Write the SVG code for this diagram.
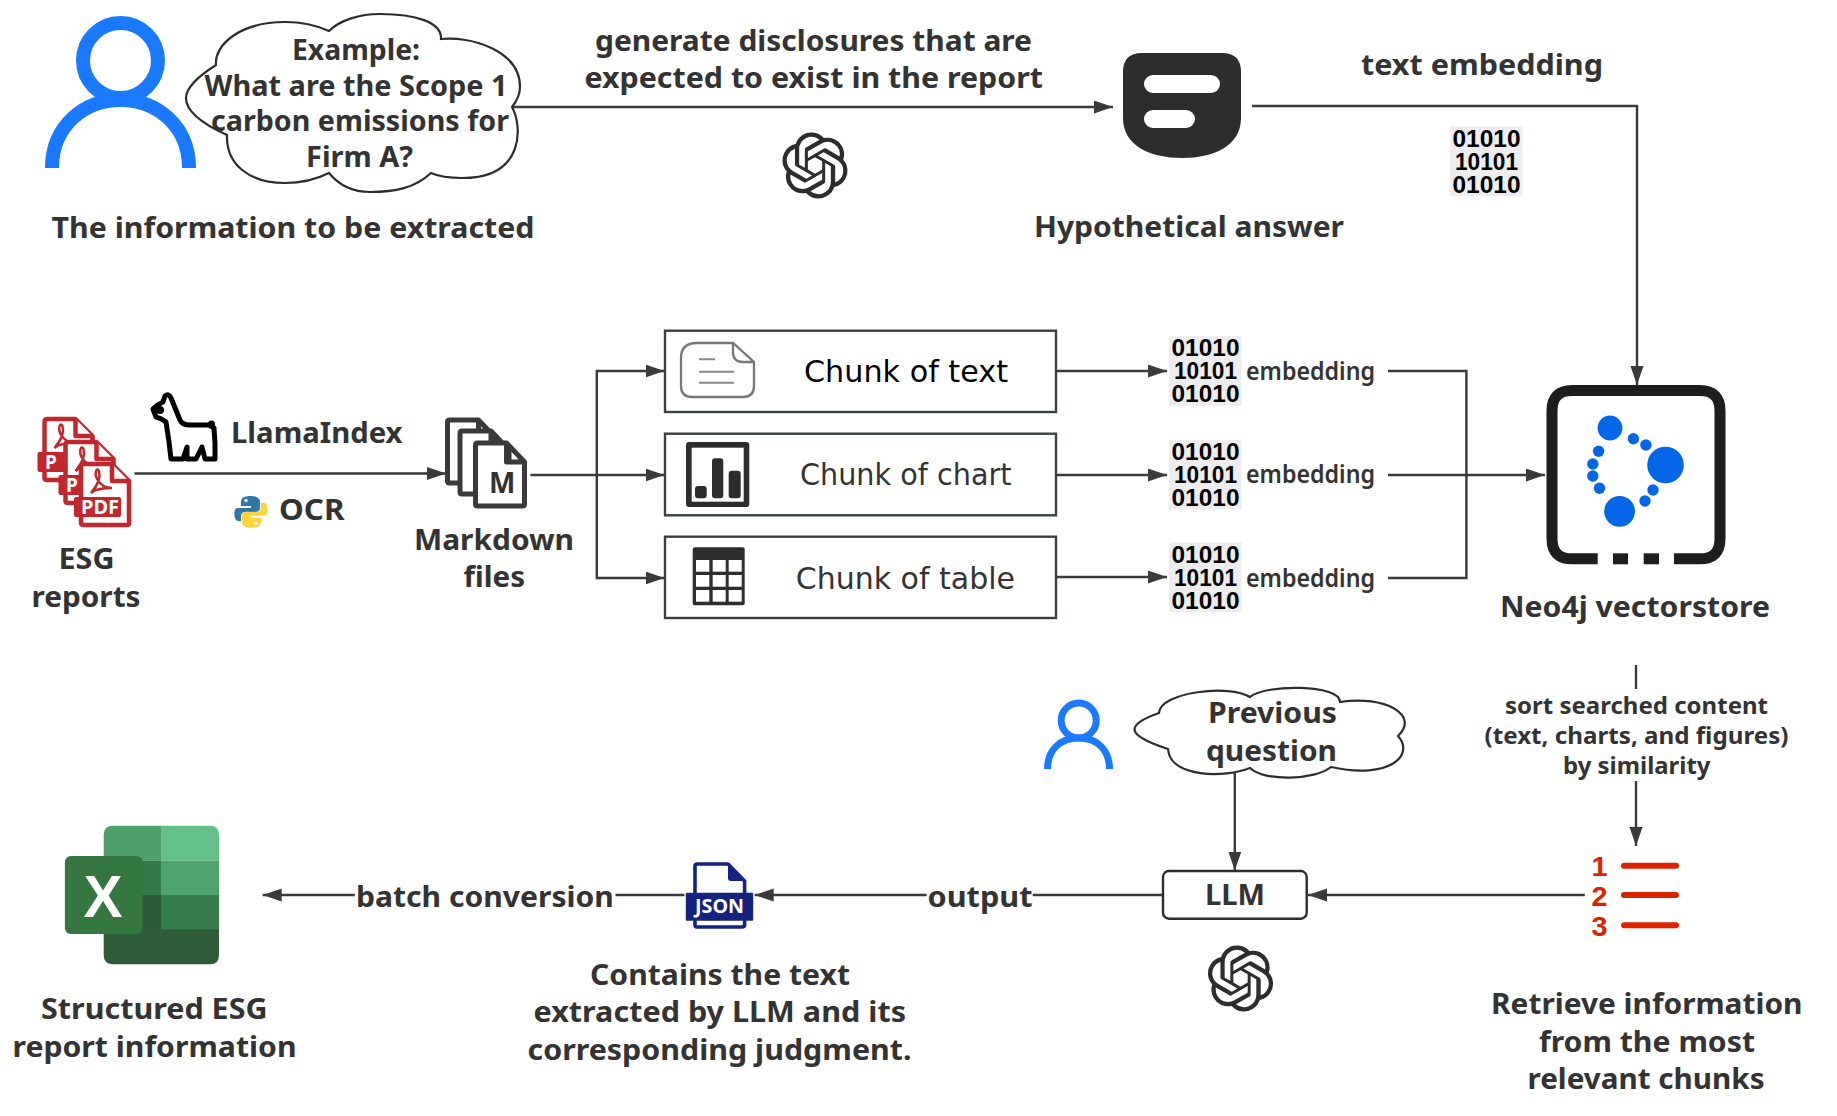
<svg xmlns="http://www.w3.org/2000/svg" xmlns:xlink="http://www.w3.org/1999/xlink" width="1837" height="1116" viewBox="0 0 1837 1116">
<style>
text{font-family:"Noto Sans","Open Sans","Liberation Sans",sans-serif;font-weight:700;fill:#333;font-size:29px}
.cl{font-size:28px}
.em{font-size:26px;font-weight:600}
.sm{font-size:24px}
.chunk{font-family:"DejaVu Sans",sans-serif;font-weight:400;font-size:30px}
.bin{font-family:"Liberation Sans",sans-serif;font-weight:700;font-size:24px;fill:#000}
.conn{fill:none;stroke:#3a3a3a;stroke-width:2.4}
.box{fill:#fff;stroke:#3a3f45;stroke-width:2.4}
.cloud{fill:#fff;stroke:#2d2d2d;stroke-width:2.2}
.person{fill:none;stroke:#1a7aff}
.dot{fill:#0366e8}
.pdf{fill:#fff;stroke:#c1272d;stroke-width:4.5;stroke-linejoin:round}
.md{fill:#fff;stroke:#3a3a3a;stroke-width:5;stroke-linejoin:round}
.num{fill:#dd2200;font-family:"Liberation Sans",sans-serif;font-weight:700;font-size:28px}
.wh{fill:#fff;font-weight:700;font-size:19px}
.dark{fill:#2d2d2d}
</style>
<defs>
<marker id="arrow" markerUnits="userSpaceOnUse" markerWidth="20" markerHeight="14" refX="19" refY="6.5" orient="auto"><path d="M0 0L19 6.5L0 13Z" fill="#3a3a3a"/></marker>
<path id="openai" d="M22.2819 9.8211a5.9847 5.9847 0 0 0-.5157-4.9108 6.0462 6.0462 0 0 0-6.5098-2.9A6.0651 6.0651 0 0 0 4.9807 4.1818a5.9847 5.9847 0 0 0-3.9977 2.9 6.0462 6.0462 0 0 0 .7427 7.0966 5.98 5.98 0 0 0 .511 4.9107 6.051 6.051 0 0 0 6.5146 2.9001A5.9847 5.9847 0 0 0 13.2599 24a6.0557 6.0557 0 0 0 5.7718-4.2058 5.9894 5.9894 0 0 0 3.9977-2.9001 6.0557 6.0557 0 0 0-.7475-7.0729zm-9.022 12.6081a4.4755 4.4755 0 0 1-2.8764-1.0408l.1419-.0804 4.7783-2.7582a.7948.7948 0 0 0 .3927-.6813v-6.7369l2.02 1.1686a.071.071 0 0 1 .038.052v5.5826a4.504 4.504 0 0 1-4.4945 4.4944zm-9.6607-4.1254a4.4708 4.4708 0 0 1-.5346-3.0137l.142.0852 4.783 2.7582a.7712.7712 0 0 0 .7806 0l5.8428-3.3685v2.3324a.0804.0804 0 0 1-.0332.0615L9.74 19.9502a4.4992 4.4992 0 0 1-6.1408-1.6464zM2.3408 7.8956a4.485 4.485 0 0 1 2.3655-1.9728V11.6a.7664.7664 0 0 0 .3879.6765l5.8144 3.3543-2.0201 1.1685a.0757.0757 0 0 1-.071 0l-4.8303-2.7865A4.504 4.504 0 0 1 2.3408 7.872zm16.5963 3.8558L13.1038 8.364 15.1192 7.2a.0757.0757 0 0 1 .071 0l4.8303 2.7913a4.4944 4.4944 0 0 1-.6765 8.1042v-5.6772a.79.79 0 0 0-.407-.667zm2.0107-3.0231l-.142-.0852-4.7735-2.7818a.7759.7759 0 0 0-.7854 0L9.409 9.2297V6.8974a.0662.0662 0 0 1 .0284-.0615l4.8303-2.7866a4.4992 4.4992 0 0 1 6.6802 4.66zM8.3065 12.863l-2.02-1.1638a.0804.0804 0 0 1-.038-.0567V6.0742a4.4992 4.4992 0 0 1 7.3757-3.4537l-.142.0805L8.704 5.459a.7948.7948 0 0 0-.3927.6813zm1.0976-2.3654l2.602-1.4998 2.6069 1.4998v2.9994l-2.5974 1.4997-2.6067-1.4997Z"/>
<g id="pdfdoc"><path class="pdf" d="M5 2H33L50 19V61Q50 63 48 63H5Q2 63 2 61V5Q2 2 5 2Z"/><path class="pdf" d="M33 2V19H50"/><rect x="-5" y="35" width="47" height="20" rx="2" fill="#c1272d"/><path d="M12 31C18 24 22 16 20 9C18 5 15 10 18 17C22 24 28 26 33 26C27 26 17 26 12 31Z" fill="none" stroke="#c1272d" stroke-width="2.5"/></g>
<path id="mddoc" class="md" d="M5 3H34L52 22V64Q52 66 50 66H5Q3 66 3 64V5Q3 3 5 3ZM34 3V22H52"/>
<g id="binbg"><rect width="72.5" height="69.5" fill="#ededed"/><text class="bin" x="2.5" y="20" textLength="68" lengthAdjust="spacingAndGlyphs">01010</text><text class="bin" x="5" y="43" textLength="63" lengthAdjust="spacingAndGlyphs">10101</text><text class="bin" x="2.5" y="66" textLength="68" lengthAdjust="spacingAndGlyphs">01010</text></g>
</defs>
<rect width="1837" height="1116" fill="#fff"/>

<g id="connectors">
<path class="conn" d="M512 107H1113" marker-end="url(#arrow)"/>
<path class="conn" d="M1252 106H1637V385" marker-end="url(#arrow)"/>
<path class="conn" d="M134.4 473.5H446" marker-end="url(#arrow)"/>
<path class="conn" d="M530.4 475H596.8"/>
<path class="conn" d="M596.8 475V371H664.5" marker-end="url(#arrow)"/>
<path class="conn" d="M596.8 475H664.5" marker-end="url(#arrow)"/>
<path class="conn" d="M596.8 475V578H664.5" marker-end="url(#arrow)"/>
<path class="conn" d="M1056 371H1167" marker-end="url(#arrow)"/>
<path class="conn" d="M1056 475H1167" marker-end="url(#arrow)"/>
<path class="conn" d="M1056 577H1167" marker-end="url(#arrow)"/>
<path class="conn" d="M1388 371H1466.4V578H1388"/>
<path class="conn" d="M1388 475H1545" marker-end="url(#arrow)" style="stroke-width:2.6"/>
<path class="conn" d="M1636 665V689"/>
<path class="conn" d="M1636 781V846" marker-end="url(#arrow)"/>
<path class="conn" d="M1584.8 895H1308" marker-end="url(#arrow)"/>
<path class="conn" d="M1234.8 771V870.5" marker-end="url(#arrow)"/>
<path class="conn" d="M1163 895H1032.8"/>
<path class="conn" d="M926.7 895H754.7" marker-end="url(#arrow)"/>
<path class="conn" d="M684.4 895H615.5"/>
<path class="conn" d="M354.8 895H262.7" marker-end="url(#arrow)"/>
</g>

<g id="node-user">
<circle class="person" cx="120.5" cy="60.5" r="37.5" stroke-width="14"/>
<path class="person" stroke-width="14" d="M52 168C52 125 85 100 120.5 100S189 125 189 168"/>
<text x="51.5" y="237.5" textLength="483" lengthAdjust="spacingAndGlyphs">The information to be extracted</text>
</g>

<g id="node-question">
<path class="cloud" d="M216 65C214 45 240 22 285 22C305 22 318 26 329 31C340 20 360 14 380 14C415 14 442 22 441 39C470 36 520 50 520 87C520 95 516 102 512 107C522 125 526 178 462 178C450 178 440 177 431 173C415 188 395 192 370 192C350 192 338 184 329 173C315 180 300 183 285 183C250 183 226 165 227 135C205 125 186 112 186 98C186 85 205 72 216 65Z"/>
<text class="cl" x="292" y="60" textLength="128" lengthAdjust="spacingAndGlyphs">Example:</text>
<text class="cl" x="204.5" y="95.5" textLength="303" lengthAdjust="spacingAndGlyphs">What are the Scope 1</text>
<text class="cl" x="211" y="131" textLength="298" lengthAdjust="spacingAndGlyphs">carbon emissions for</text>
<text class="cl" x="306" y="167" textLength="107" lengthAdjust="spacingAndGlyphs">Firm A?</text>
</g>

<g id="label-generate">
<text x="595" y="50.7" textLength="437" lengthAdjust="spacingAndGlyphs">generate disclosures that are</text>
<text x="584.5" y="87.7" textLength="458.5" lengthAdjust="spacingAndGlyphs">expected to exist in the report</text>
<use xlink:href="#openai" class="dark" transform="translate(782 132.5) scale(2.75)"/>
</g>

<g id="node-hypothetical">
<path class="dark" d="M1142 53H1222Q1241 53 1241 72V118C1241 145 1215 158 1182 158C1149 158 1123 145 1123 118V72Q1123 53 1142 53Z"/>
<rect x="1144" y="75" width="76" height="18" rx="9" fill="#fff"/>
<rect x="1144" y="110" width="51" height="18" rx="9" fill="#fff"/>
<text x="1034" y="237" textLength="310" lengthAdjust="spacingAndGlyphs">Hypothetical answer</text>
</g>

<g id="label-text-embedding">
<text x="1361" y="75" textLength="242" lengthAdjust="spacingAndGlyphs">text embedding</text>
<use xlink:href="#binbg" transform="translate(1450 126.5)"/>
</g>

<g id="node-esg">
<use xlink:href="#pdfdoc" transform="translate(42.5 417)"/>
<text class="wh" x="45" y="469">P</text>
<use xlink:href="#pdfdoc" transform="translate(63.5 440)"/>
<text class="wh" x="66" y="492">P</text>
<use xlink:href="#pdfdoc" transform="translate(79 462)"/>
<text class="wh" x="81" y="514" textLength="38" lengthAdjust="spacingAndGlyphs">PDF</text>
<text x="58.5" y="569" textLength="56" lengthAdjust="spacingAndGlyphs">ESG</text>
<text x="31.5" y="607" textLength="109" lengthAdjust="spacingAndGlyphs">reports</text>
</g>

<g id="label-llamaindex">
<path fill="#fff" stroke="#000" stroke-width="5" stroke-linejoin="round" d="M156 417L153 409Q158 404 163 402L165 396Q169 393 171 398L180 420Q182 425 190 425L209 425L214 428L215 443L215 459L205 459L202 447L196 459L187 459L187 447L183 459L171 459L169 442L166 422Q161 418 156 417Z"/>
<circle cx="211.5" cy="424" r="3.5"/><circle cx="160" cy="410" r="4"/>
<text x="231" y="443" textLength="171.5" lengthAdjust="spacingAndGlyphs">LlamaIndex</text>
</g>

<g id="label-ocr">
<path fill="#2f77a9" d="M251 496C244 496 241 498 241 502V506H251V508H238C235 508 234.4 511 234.4 514C234.4 517 235.5 521 238 521H241V516C241 513.5 243 512 245 512H256C258 512 260 510 260 508V502C260 498 256 496 251 496Z"/>
<circle cx="246" cy="500.5" r="1.7" fill="#fff"/>
<g transform="rotate(180 251 511.9)"><path fill="#ffd43b" d="M251 496C244 496 241 498 241 502V506H251V508H238C235 508 234.4 511 234.4 514C234.4 517 235.5 521 238 521H241V516C241 513.5 243 512 245 512H256C258 512 260 510 260 508V502C260 498 256 496 251 496Z"/><circle cx="246" cy="500.5" r="1.7" fill="#fff"/></g>
<text x="279" y="520" textLength="65.5" lengthAdjust="spacingAndGlyphs">OCR</text>
</g>

<g id="node-markdown">
<use xlink:href="#mddoc" transform="translate(444.5 417)"/>
<use xlink:href="#mddoc" transform="translate(457 428)"/>
<use xlink:href="#mddoc" transform="translate(472.5 440)"/>
<text x="489" y="493" style="font-size:28px">M</text>
<text x="414" y="550" textLength="160" lengthAdjust="spacingAndGlyphs">Markdown</text>
<text x="463.5" y="587" textLength="61.5" lengthAdjust="spacingAndGlyphs">files</text>
</g>

<g id="node-chunk-text">
<rect class="box" x="665" y="330.7" width="391" height="81.3"/>
<path fill="none" stroke="#777" stroke-width="2.3" d="M697 343H733L754 362V386Q754 397 743 397H692Q681 397 681 386V358Q681 343 697 343ZM733 343V352Q733 362 743 362H754"/>
<path fill="none" stroke="#888" stroke-width="2" d="M699 359.3H715M699 371.7H734M699 382.7H734"/>
<text class="chunk" x="804" y="382" textLength="204" lengthAdjust="spacingAndGlyphs" style="fill:#000">Chunk of text</text>
</g>

<g id="node-chunk-chart">
<rect class="box" x="665" y="433.7" width="391" height="81.6"/>
<rect class="dark" x="686" y="442" width="63.3" height="65" rx="3"/>
<rect x="691.7" y="447.7" width="52" height="54" fill="#fff"/>
<rect class="dark" x="695" y="486" width="11.7" height="12.3" rx="3"/>
<rect class="dark" x="712" y="458.3" width="11.3" height="40" rx="3"/>
<rect class="dark" x="728.7" y="470.7" width="12" height="27.6" rx="3"/>
<text class="chunk" x="800" y="485" textLength="211.5" lengthAdjust="spacingAndGlyphs">Chunk of chart</text>
</g>

<g id="node-chunk-table">
<rect class="box" x="665" y="536.7" width="391" height="81.3"/>
<rect class="dark" x="692.7" y="547.3" width="52" height="58" rx="2"/>
<g fill="#fff"><rect x="696" y="560" width="13.3" height="11.7"/><rect x="712.7" y="560" width="13" height="11.7"/><rect x="728.7" y="560" width="13" height="11.7"/><rect x="696" y="575" width="13.3" height="11.7"/><rect x="712.7" y="575" width="13" height="11.7"/><rect x="728.7" y="575" width="13" height="11.7"/><rect x="696" y="590" width="13.3" height="11.7"/><rect x="712.7" y="590" width="13" height="11.7"/><rect x="728.7" y="590" width="13" height="11.7"/></g>
<text class="chunk" x="795.7" y="589.3" textLength="219.3" lengthAdjust="spacingAndGlyphs">Chunk of table</text>
</g>

<g id="node-embedding-text"><use xlink:href="#binbg" transform="translate(1169 336.2)"/><text class="em" x="1246" y="380.3" textLength="129" lengthAdjust="spacingAndGlyphs">embedding</text></g>
<g id="node-embedding-chart"><use xlink:href="#binbg" transform="translate(1169 440)"/><text class="em" x="1246" y="483" textLength="129" lengthAdjust="spacingAndGlyphs">embedding</text></g>
<g id="node-embedding-table"><use xlink:href="#binbg" transform="translate(1169 542.5)"/><text class="em" x="1246" y="587" textLength="129" lengthAdjust="spacingAndGlyphs">embedding</text></g>

<g id="node-neo4j">
<path fill="none" stroke="#1e1e1e" stroke-width="11" d="M1597.7 558.8H1572Q1552 558.8 1552 538.8V411Q1552 390.6 1572 390.6H1700Q1720 390.6 1720 411V538.8Q1720 558.8 1700 558.8H1674"/>
<rect x="1613" y="553.3" width="15" height="11" fill="#1e1e1e"/><rect x="1643.7" y="553.3" width="15.3" height="11" fill="#1e1e1e"/>
<g class="dot"><circle cx="1610" cy="428" r="12.4"/><circle cx="1665.5" cy="465" r="18.3"/><circle cx="1619.6" cy="511.3" r="15.4"/><circle cx="1633.4" cy="438.7" r="5.7"/><circle cx="1645.9" cy="445" r="5.7"/><circle cx="1598.6" cy="451.3" r="5.7"/><circle cx="1592.8" cy="464" r="5.7"/><circle cx="1592.8" cy="476" r="5.7"/><circle cx="1599.5" cy="488.3" r="5.7"/><circle cx="1653" cy="490" r="5.7"/><circle cx="1645" cy="501" r="5.7"/></g>
<text x="1500" y="616.7" textLength="270" lengthAdjust="spacingAndGlyphs">Neo4j vectorstore</text>
</g>

<g id="label-sort">
<text class="sm" x="1505" y="714" textLength="263" lengthAdjust="spacingAndGlyphs">sort searched content</text>
<text class="sm" x="1484.5" y="744" textLength="304" lengthAdjust="spacingAndGlyphs">(text, charts, and figures)</text>
<text class="sm" x="1563" y="774" textLength="147.5" lengthAdjust="spacingAndGlyphs">by similarity</text>
</g>

<g id="node-ranking">
<text class="num" x="1591.5" y="876" textLength="16" lengthAdjust="spacingAndGlyphs">1</text>
<text class="num" x="1591.5" y="906" textLength="16" lengthAdjust="spacingAndGlyphs">2</text>
<text class="num" x="1591.5" y="936" textLength="16" lengthAdjust="spacingAndGlyphs">3</text>
<path fill="none" stroke="#dd2200" stroke-width="6" stroke-linecap="round" d="M1624 865.7H1676M1624 895H1676M1624 925.3H1676"/>
<text x="1491" y="1014" textLength="311.5" lengthAdjust="spacingAndGlyphs">Retrieve information</text>
<text x="1539" y="1051.7" textLength="216" lengthAdjust="spacingAndGlyphs">from the most</text>
<text x="1527.5" y="1089.3" textLength="237" lengthAdjust="spacingAndGlyphs">relevant chunks</text>
</g>

<g id="node-user-2">
<circle class="person" cx="1078.7" cy="720.5" r="17.5" stroke-width="7"/>
<path class="person" stroke-width="7" d="M1047.5 769C1047.5 750 1060 738 1078.7 738S1109.5 750 1109.5 769"/>
</g>

<g id="node-previous">
<path class="cloud" d="M1159 713C1160 692 1230 684 1250 697C1265 684 1340 684 1340 702C1385 695 1420 715 1398 736C1415 755 1390 780 1331 767C1315 780 1265 782 1250 768C1225 778 1170 778 1168 749C1125 735 1125 725 1159 713Z"/>
<text x="1208" y="723.3" textLength="129" lengthAdjust="spacingAndGlyphs">Previous</text>
<text x="1206" y="761" textLength="131" lengthAdjust="spacingAndGlyphs">question</text>
</g>

<g id="node-llm">
<rect class="box" x="1163" y="871" width="143.7" height="47.7" rx="6" style="stroke:#2d2d2d"/>
<text x="1205" y="905" textLength="60" lengthAdjust="spacingAndGlyphs">LLM</text>
<use xlink:href="#openai" class="dark" transform="translate(1207.5 945.5) scale(2.75)"/>
</g>

<text id="label-output" x="927.5" y="907" textLength="105" lengthAdjust="spacingAndGlyphs">output</text>
<text id="label-batch" x="356" y="907" textLength="257.9" lengthAdjust="spacingAndGlyphs">batch conversion</text>

<g id="node-json">
<path fill="#fff" stroke="#14237f" stroke-width="3.6" stroke-linejoin="round" d="M697 864H728L744.6 881V925Q744.6 927 742 927H697Q695 927 695 925V866Q695 864 697 864Z"/>
<path fill="#14237f" d="M728 864V878Q728 881 731 881H744.6Z"/>
<rect x="685.8" y="892.7" width="67.4" height="28" rx="1" fill="#14237f"/>
<text class="wh" x="695" y="913" textLength="49" lengthAdjust="spacingAndGlyphs" style="font-size:20px">JSON</text>
<text x="590" y="984.5" textLength="260" lengthAdjust="spacingAndGlyphs">Contains the text</text>
<text x="533.5" y="1022" textLength="372.5" lengthAdjust="spacingAndGlyphs">extracted by LLM and its</text>
<text x="527.5" y="1059.5" textLength="384" lengthAdjust="spacingAndGlyphs">corresponding judgment.</text>
</g>

<g id="node-excel">
<path fill="#2c5c38" d="M103.7 929H219V955Q219 964.3 210 964.3H113Q103.7 964.3 103.7 955Z"/>
<path fill="#4f9e6b" d="M113 825.7H161V860.7H103.7V835Q103.7 825.7 113 825.7Z"/>
<path fill="#63c089" d="M161 825.7H210Q219 825.7 219 835V860.7H161Z"/>
<rect x="103.7" y="860.7" width="57.3" height="34.3" fill="#33794a"/>
<rect x="161" y="860.7" width="58" height="34.3" fill="#4fa36f"/>
<rect x="103.7" y="895" width="57.3" height="34.3" fill="#2b5a38"/>
<rect x="161" y="895" width="58" height="34.3" fill="#377d4c"/>
<rect x="64.9" y="856" width="77.6" height="78" rx="6" fill="#34783f"/>
<text x="83.5" y="917" textLength="39" lengthAdjust="spacingAndGlyphs" style="fill:#fff;font-size:60px;font-family:'Liberation Sans',sans-serif">X</text>
<text x="41" y="1019" textLength="226.5" lengthAdjust="spacingAndGlyphs">Structured ESG</text>
<text x="12.5" y="1056.7" textLength="284" lengthAdjust="spacingAndGlyphs">report information</text>
</g>
</svg>
